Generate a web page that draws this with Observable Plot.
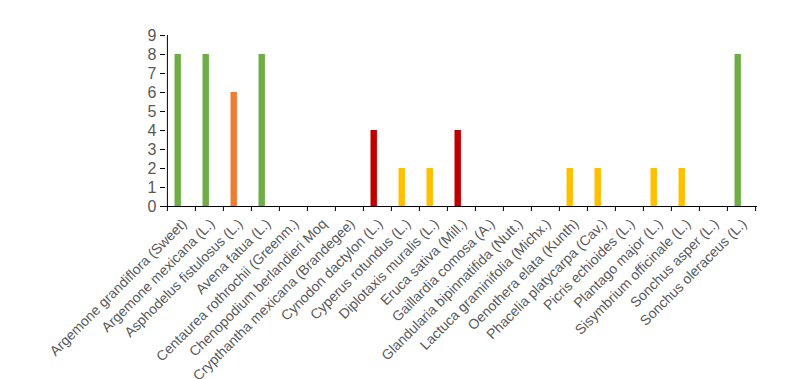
<!DOCTYPE html>
<html>
<head>
<meta charset="utf-8">
<script src="https://cdn.jsdelivr.net/npm/d3@7"></script>
<script src="https://cdn.jsdelivr.net/npm/@observablehq/plot@0.6"></script>
<style>
  html, body { margin: 0; padding: 0; background: #fff; }
  #chart svg { display: block; font-family: "Liberation Sans", Arial, sans-serif; }
</style>
</head>
<body>
<div id="chart"></div>
<script>
const species = [
  "Argemone grandiflora (Sweet)",
  "Argemone mexicana (L.)",
  "Asphodelus fistulosus (L.)",
  "Avena fatua (L.)",
  "Centaurea rothrochii (Greenm.)",
  "Chenopodium berlandieri Moq",
  "Crypthantha mexicana (Brandegee)",
  "Cynodon dactylon (L.)",
  "Cyperus rotundus (L.)",
  "Diplotaxis muralis (L.)",
  "Eruca sativa (Mill.)",
  "Gaillardia comosa (A.)",
  "Glandularia bipinnatifida (Nutt.)",
  "Lactuca graminifolia (Michx.)",
  "Oenothera elata (Kunth)",
  "Phacelia platycarpa (Cav.)",
  "Picris echioides (L.)",
  "Plantago major (L.)",
  "Sisymbrium officinale (L.)",
  "Sonchus asper (L.)",
  "Sonchus oleraceus (L.)"
];
const values = [8, 8, 6, 8, 0, 0, 0, 4, 2, 2, 4, 0, 0, 0, 2, 2, 0, 2, 2, 0, 8];
const levels = [2, 4, 6, 8];
const levelColors = ["#FFC000", "#C00000", "#ED7D31", "#70AD47"];
const yTicks = [0, 1, 2, 3, 4, 5, 6, 7, 8, 9];

const data = species.map((s, i) => ({species: s, value: values[i]}));
const W = 809, ML = 165, MR = 52;
const bw = (W - ML - MR) / species.length;

const chart = Plot.plot({
  width: W,
  height: 379,
  marginLeft: ML,
  marginRight: MR,
  marginTop: 35,
  marginBottom: 173,
  style: {fontFamily: "Liberation Sans, Arial, sans-serif", background: "#fff"},
  x: {domain: species, padding: 0},
  y: {domain: [0, 9]},
  color: {domain: levels, range: levelColors},
  marks: [
    Plot.barY(data.filter(d => d.value > 0), {
      x: "species", y: "value", fill: d => d.value,
      insetLeft: bw / 2 - 6.6, insetRight: bw / 2
    }),
    // y axis
    Plot.axisY({ticks: yTicks, tickSize: 5, tickPadding: 4, fontSize: 16, color: "#595959", stroke: "#000", label: null}),
    Plot.ruleX([species[0]], {x: d => d, y1: 0, y2: 9, dx: -bw / 2, stroke: "#000"}),
    // x axis ticks at band boundaries
    Plot.axisX({tickSize: 5, tickFormat: () => "", dx: -bw / 2, stroke: "#000", label: null}),
    Plot.axisX({ticks: [species[species.length - 1]], tickSize: 5, tickFormat: () => "", dx: bw / 2, stroke: "#000", label: null}),
    Plot.ruleY([0], {stroke: "#000"}),
    // x labels
    Plot.axisX({tickSize: 0, tickRotate: -45, tickPadding: 15, dx: 3, fontSize: 14, fill: "#595959", label: null})
  ]
});
document.getElementById("chart").appendChild(chart);
</script>
</body>
</html>
